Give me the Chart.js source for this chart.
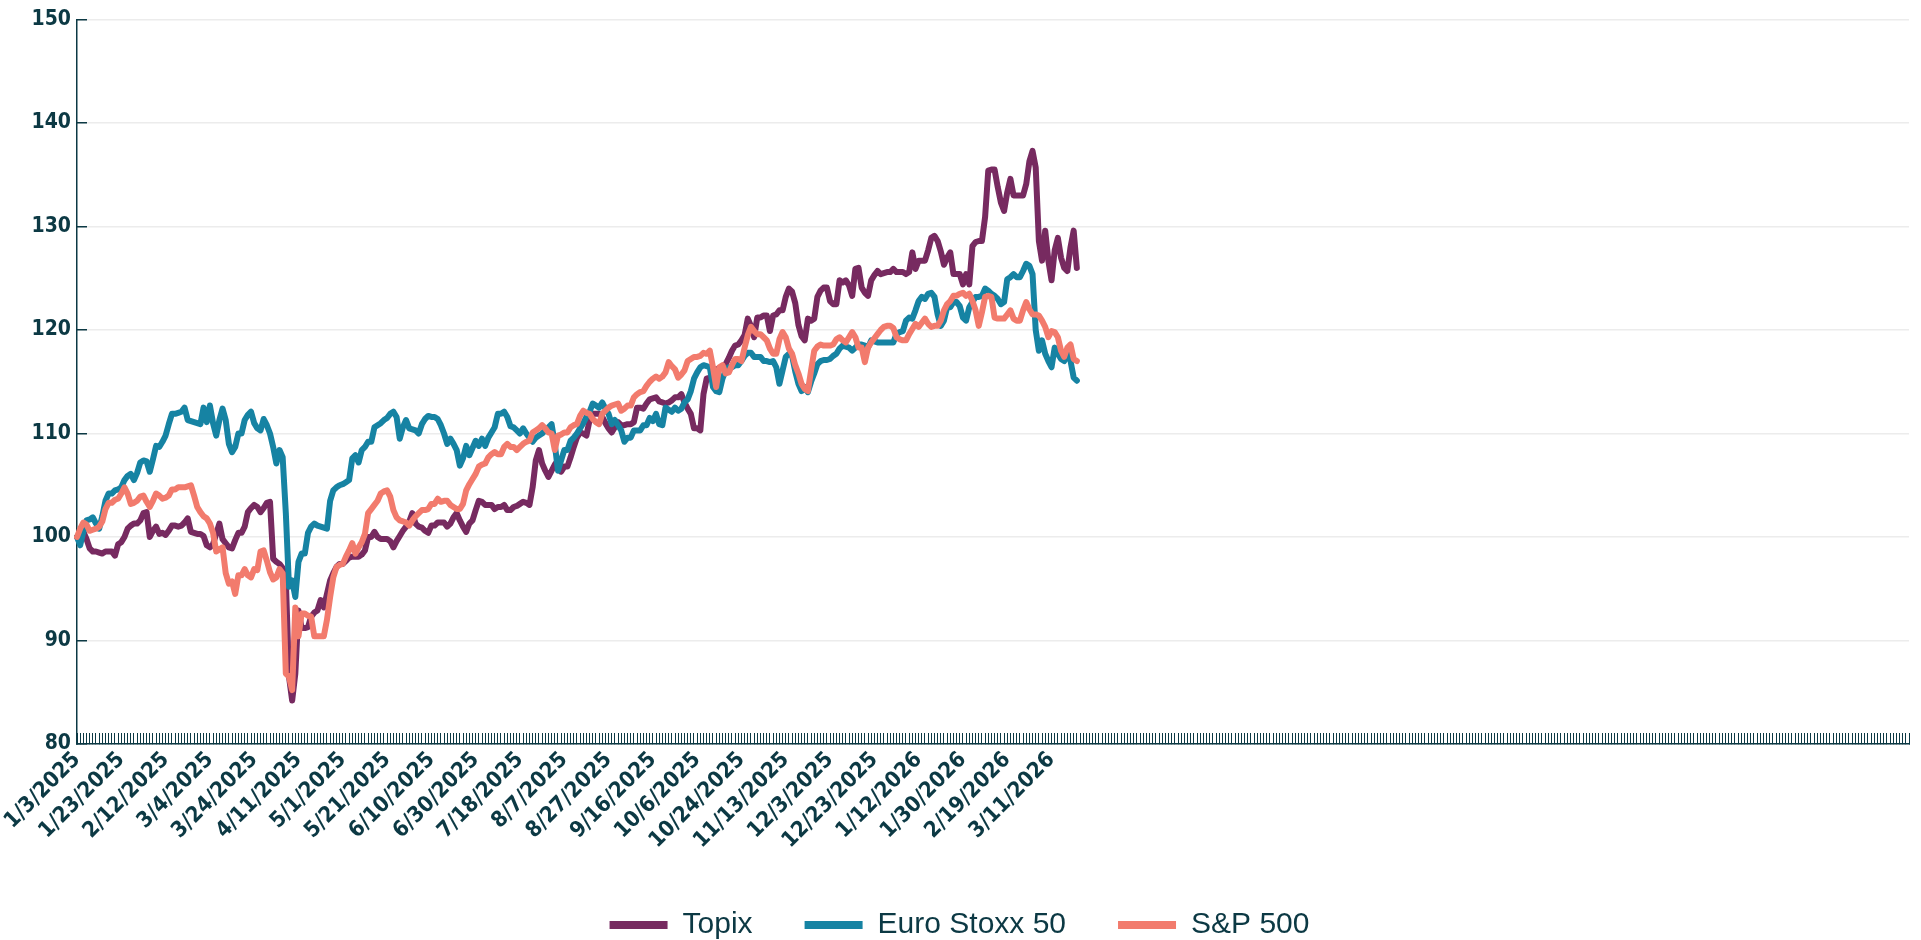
<!DOCTYPE html>
<html>
<head>
<meta charset="utf-8">
<title>Topix, Euro Stoxx 50, S&amp;P 500</title>
<script src="https://cdn.jsdelivr.net/npm/chart.js@4.4.1/dist/chart.umd.min.js"></script>
<style>
	html, body { margin: 0; padding: 0; background: #ffffff; overflow: hidden; }
	#chart-container { position: relative; width: 1921px; height: 940px; }
</style>
</head>
<body>
<div id="chart-container"><canvas id="myChart"></canvas></div>
<script>
		//Series values (rebased to 100), one per weekday from 1/3/2025 to 3/19/2026
		var topix = [
			100, 100.2, 100.5, 99.8, 98.9, 98.6, 98.6, 98.5, 98.4, 98.6,
			98.6, 98.6, 98.2, 99.3, 99.5, 100, 100.8, 101.1, 101.3, 101.3, 101.6,
			102.3, 102.4, 100, 100.6, 101, 100.3, 100.4, 100.2, 100.6, 101.1, 101.1,
			101, 101.1, 101.4, 101.8, 100.5, 100.4, 100.3, 100.3, 100.1, 99.2,
			99, 99.3, 100.3, 101.3, 99.8, 99.4, 99, 98.9, 99.7, 100.4, 100.4,
			101, 102.4, 102.8, 103.1, 102.9, 102.4, 102.8, 103.3, 103.4, 97.9,
			97.6, 97.4, 97.0, 95.8, 86.5, 84.2, 86.8, 92.9, 91.2, 91.2, 91.3,
			92.3, 92.7, 92.9, 93.9, 93.2, 94.5, 95.8, 96.5, 97.1, 97.4,
			97.4, 97.7, 98, 98.1, 98.1, 98.1, 98.3, 98.7, 100, 100, 100.5,
			100, 99.8, 99.8, 99.8, 99.6, 99.0, 99.6, 100.1, 100.6, 101.0,
			101.5, 102.3, 101.3, 101, 100.9, 100.6, 100.4, 101.1, 101.1, 101.4, 101.4,
			101.4, 101, 101.3, 101.9, 102.3, 101.6, 101, 100.5, 101.3, 101.6,
			102.6, 103.5, 103.4, 103.1, 103.1, 103.1, 102.7, 102.9, 102.9, 103.1, 102.6,
			102.6, 102.9, 103, 103.2, 103.4, 103.3, 103.1, 104.8, 107.4, 108.4,
			107.1, 106.4, 105.8, 106.4, 107, 107.4, 106.3, 106.8, 106.8, 107.7, 108.7,
			109.6, 110.1, 110, 109.8, 111.3, 111.9, 111.9, 111.9, 111.6, 111,
			110.5, 110.1, 110.6, 111.1, 110.8, 110.8, 110.9, 110.9, 111.1, 112.5, 112.5,
			112.4, 112.9, 113.3, 113.4, 113.5, 113.1, 113, 112.9, 113, 113.2,
			113.5, 113.5, 113.8, 113, 112.4, 111.9, 110.5, 110.5, 110.3, 113.8, 115.3,
			115.4, 115.8, 116.2, 116.3, 116.4, 116.7, 117.3, 118, 118.5, 118.6,
			119, 119.5, 121.1, 120.4, 119.3, 121.2, 121.2, 121.4, 121.4, 119.9, 121.4,
			121.5, 121.9, 121.9, 123.2, 124, 123.7, 122.6, 120.5, 119.4, 119,
			121.1, 120.9, 121.1, 123.2, 123.8, 124.1, 124.1, 122.8, 122.5, 122.5, 124.8,
			124.6, 124.8, 124.3, 123.3, 125.9, 126, 124.1, 123.6, 123.3, 124.8,
			125.3, 125.7, 125.4, 125.5, 125.6, 125.6, 125.9, 125.6, 125.6, 125.6, 125.4,
			125.6, 127.5, 125.9, 126.7, 126.7, 126.7, 127.7, 128.9, 129.1, 128.6,
			127.6, 126.3, 127, 127.5, 125.4, 125.4, 125.4, 124.4, 125.4, 124.4, 128.1,
			128.5, 128.6, 128.6, 130.9, 135.4, 135.5, 135.5, 133.8, 132.3, 131.5,
			133.3, 134.6, 133, 133, 133, 133, 134.1, 136.3, 137.3, 135.7, 128.6,
			126.7, 129.6, 126.7, 124.8, 127.7, 128.9, 127, 126, 125.7, 128,
			129.6, 126
		];
		var euroStoxx = [
			100, 99.2, 100.5, 101.6, 101.7, 101.9, 101.3, 100.8, 102, 103.5,
			104.2, 104.2, 104.5, 104.6, 104.8, 105.5, 105.9, 106.1, 105.5, 106.2, 107.2,
			107.4, 107.3, 106.3, 107.5, 108.8, 108.7, 109.2, 109.8, 110.9, 111.9, 111.9,
			112, 112.1, 112.5, 111.3, 111.2, 111.1, 111, 110.9, 112.5, 111.1,
			112.7, 111, 109.8, 111.3, 112.4, 111.3, 109, 108.2, 108.7, 110, 110,
			111.3, 111.8, 112.1, 111, 110.5, 110.3, 111.4, 110.8, 110, 108.7,
			107.1, 108.4, 107.7, 102.3, 95.2, 95.8, 94.2, 97.6, 98.4, 98.4, 100.4,
			101, 101.3, 101.1, 101, 100.9, 100.8, 103.5, 104.5, 104.8, 105,
			105.1, 105.3, 105.5, 107.6, 107.9, 107.2, 108.4, 108.7, 109.2, 109.2, 110.6,
			110.8, 111, 111.3, 111.5, 111.9, 112.1, 111.6, 109.5, 110.6, 111.3,
			110.5, 110.4, 110.3, 110, 110.9, 111.4, 111.7, 111.6, 111.6, 111.4, 110.8,
			110, 109, 109.5, 109, 108.4, 106.9, 107.6, 108.8, 107.9, 108.6,
			109.3, 108.8, 109.5, 108.8, 109.6, 110.1, 110.6, 111.9, 111.9, 112.1, 111.6,
			110.7, 110.6, 110.3, 110, 110.5, 110, 109.6, 109.2, 109.6, 109.8,
			110, 110.3, 110.6, 110.9, 109, 106.4, 107.4, 108.4, 108.4, 109.3, 109.6,
			110, 110.5, 111, 111.6, 112.1, 112.9, 112.7, 112.5, 113, 112.4,
			111.9, 110.9, 111.3, 110.8, 110.3, 109.2, 109.6, 109.6, 110.3, 110.3, 110.3,
			110.8, 110.8, 111.5, 111.2, 111.9, 110.9, 110.8, 112.5, 112.3, 112.1,
			112.5, 112.2, 112.4, 113, 113.3, 114.1, 115.3, 115.9, 116.4, 116.6, 116.5,
			116.4, 114.5, 114.1, 114, 115.3, 116.1, 116.4, 116.4, 116.6, 116.6,
			117, 117.5, 117.8, 117.8, 117.4, 117.4, 117.4, 117, 117, 116.9, 117,
			116.4, 114.8, 116.1, 117.4, 117.7, 117.5, 116, 114.8, 114.1, 114.5,
			114, 115, 115.8, 116.7, 117, 117.1, 117.1, 117.2, 117.5, 117.7, 118.2,
			118.5, 118.4, 118.3, 118, 118.3, 118.6, 118.6, 118.5, 118.3, 119,
			118.9, 118.8, 118.8, 118.8, 118.8, 118.8, 118.8, 119.6, 119.8, 119.9, 120.9,
			121.2, 121.1, 121.9, 122.8, 123.2, 123, 123.5, 123.6, 123.2, 121.5,
			120.4, 120.9, 122.2, 122.2, 122.7, 122.7, 122.3, 121.2, 120.9, 122.2, 122.7,
			123.2, 123.2, 123.3, 124, 123.8, 123.5, 123.3, 123, 122.5, 122.7,
			124.9, 125.1, 125.4, 125.1, 125.1, 125.7, 126.4, 126.2, 125.4, 120, 118,
			119, 117.7, 117, 116.4, 118.3, 117.7, 117.2, 117, 117.7, 117,
			115.4, 115.1
		];
		var sp500 = [
			100, 100.8, 101.4, 101.2, 100.6, 100.7, 100.8, 101, 101.5, 102.7,
			103.3, 103.3, 103.6, 103.7, 104.2, 104.8, 104.2, 103.2, 103.3, 103.5, 103.9,
			104, 103.4, 102.9, 103.5, 104.2, 104, 103.7, 103.8, 104, 104.6, 104.6,
			104.8, 104.8, 104.8, 104.9, 105, 104, 102.9, 102.4, 102, 101.8,
			101.3, 100.4, 98.6, 98.8, 99, 96.5, 95.5, 95.7, 94.5, 96.3, 96.3,
			96.9, 96.3, 96.1, 96.9, 96.8, 98.6, 98.7, 97.7, 96.6, 95.9,
			96.1, 96.9, 96.5, 86.8, 86.5, 85.2, 93.2, 90.4, 92.6, 92.6, 92.4,
			92.3, 90.4, 90.4, 90.4, 90.4, 92, 94.2, 96.1, 97.1, 97.3,
			97.4, 98.1, 98.7, 99.4, 98.4, 99, 99.5, 100.3, 102.3, 102.7, 103.1,
			103.5, 104.2, 104.4, 104.5, 103.9, 102.6, 101.9, 101.6, 101.5, 101.4,
			101.1, 101.6, 102, 102.3, 102.6, 102.6, 102.7, 103.2, 103.2, 103.7, 103.4,
			103.5, 103.5, 103.1, 102.9, 102.7, 102.7, 103.2, 104.5, 105.1, 105.6,
			106.1, 106.8, 107, 107.1, 107.7, 108, 108.2, 108, 108, 108.7, 109,
			108.7, 108.7, 108.4, 108.7, 109, 109.2, 109.3, 110.1, 110.3, 110.5,
			110.8, 110.5, 110.1, 110, 108.4, 109.8, 109.9, 110.1, 110.1, 110.6, 110.8,
			110.9, 111.7, 112.2, 112, 111.9, 111.4, 111.1, 110.9, 111.9, 112.2,
			112.5, 112.7, 112.8, 112.9, 112.2, 112.4, 112.7, 112.7, 113.5, 113.8, 114,
			114.1, 114.6, 115, 115.3, 115.5, 115.3, 115.5, 115.9, 116.9, 116.5,
			116.2, 115.4, 115.7, 116.1, 117, 117.2, 117.4, 117.4, 117.5, 117.8, 117.7,
			118, 116.4, 114.5, 116.4, 116.6, 115.8, 115.9, 116.6, 117.2, 117.2,
			117, 118.3, 119.5, 120.3, 119.9, 119.6, 119.6, 119.3, 119, 118.2, 117.7,
			117.7, 119.1, 119.8, 119.3, 118.2, 117.7, 116.6, 115.8, 114.8, 114.3,
			114.1, 116.1, 118, 118.4, 118.6, 118.5, 118.5, 118.5, 118.6, 119.1, 119.3,
			119, 118.8, 119.3, 119.8, 119.3, 118.3, 118.3, 116.9, 118.3, 118.8,
			119.2, 119.6, 120, 120.3, 120.4, 120.4, 120.2, 119.3, 119.1, 119, 119,
			119.6, 120.1, 120.6, 120.3, 120.7, 121.1, 120.6, 120.3, 120.4, 120.4,
			120.9, 121.9, 122.5, 122.8, 123.3, 123.3, 123.5, 123.6, 123.3, 123.5, 122.8,
			121.9, 120.4, 121.7, 123.2, 123.3, 123.2, 121.2, 121.1, 121.1, 121.1,
			121.5, 121.9, 121.1, 120.9, 120.9, 121.9, 122.7, 122, 121.5, 121.5, 121.4,
			120.9, 120.3, 119.3, 119.9, 119.8, 119.3, 118, 117.4, 118.3, 118.6,
			117.2, 117
		];

		//Category axis: one slot per weekday from 1/3/2025, then empty slots to the end of the axis
		var firstDate = new Date(2025, 0, 3);
		var totalSlots = 580;
		var labelEvery = 14;
		var yMin = 80;
		var yMax = 150;
		var yStep = 10;

		var categories = [];
		var day = new Date(firstDate);
		for (var i = 0; i < totalSlots; i++) {
			if (i < topix.length) {
				categories.push((day.getMonth() + 1) + "/" + day.getDate() + "/" + day.getFullYear());
				//Step to the next weekday
				do {
					day.setDate(day.getDate() + 1);
				} while (day.getDay() == 0 || day.getDay() == 6);
			} else {
				categories.push("");
			}
		}

		var textColor = "#0c3944";
		var fontFamily = "'DejaVu Sans Condensed', 'DejaVu Sans', sans-serif";

		//Legend: plain colour bars without an outline
		function legendLabels(chart) {
			var items = Chart.defaults.plugins.legend.labels.generateLabels(chart);
			items.forEach(function (item) {
				item.lineWidth = 0;
			});
			return items;
		}

		//Create Chart
		var ctx = document.getElementById('myChart').getContext("2d");
		var myChart = new Chart(ctx, {
			type: 'line',
			data: {
				labels: categories,
				datasets: [{
						label: "Topix",
						data: topix,
						borderColor: "#772a60",
						backgroundColor: "#772a60",
						order: 2
					},
					{
						label: "Euro Stoxx 50",
						data: euroStoxx,
						borderColor: "#1683a3",
						backgroundColor: "#1683a3",
						order: 1
					},
					{
						label: "S&P 500",
						data: sp500,
						borderColor: "#f27b6d",
						backgroundColor: "#f27b6d",
						order: 0
					}]
			},
			//Chart Options
			options: {
				responsive: true,
				maintainAspectRatio: false,
				animation: false,
				layout: { padding: { top: 19.5, right: 12, bottom: -10, left: 10 } },
				elements: {
					line: { borderWidth: 6, tension: 0, borderJoinStyle: 'round', borderCapStyle: 'round' },
					point: { radius: 0, hoverRadius: 0 }
				},
				plugins: {
					tooltip: { enabled: false },
					legend: {
						position: 'bottom',
						labels: {
							boxWidth: 58,
							boxHeight: 8,
							padding: 52,
							color: textColor,
							font: { family: "'Liberation Sans', Arial, sans-serif", size: 30 },
							generateLabels: legendLabels,
							sort: function (a, b) { return a.datasetIndex - b.datasetIndex; }
						}
					}
				},
				scales: {
					x: {
						type: 'category',
						offset: false,
						grid: { display: true, drawOnChartArea: false, drawTicks: true, tickLength: -11, tickColor: textColor, tickWidth: 1 },
						border: { display: true, color: textColor, width: 1.5 },
						ticks: {
							autoSkip: false,
							minRotation: 45,
							maxRotation: 45,
							padding: 14,
							color: textColor,
							font: { family: fontFamily, size: 22, weight: "bold" },
							callback: function (value, index) {
								if (index % labelEvery == 0 && index < topix.length) {
									return this.getLabelForValue(value);
								}
								return "";
							}
						},
						afterFit: function (scale) {
							scale.height = 114;
							scale.paddingLeft = 0;
							scale.paddingRight = 0;
						}
					},
					y: {
						min: yMin,
						max: yMax,
						grid: { color: "#ececec", lineWidth: 1.5, tickLength: -10, tickColor: textColor, tickWidth: 1.5 },
						border: { display: true, color: textColor, width: 1.5 },
						ticks: { stepSize: yStep, padding: 16, color: textColor, font: { family: fontFamily, size: 21, weight: "bold" } },
						afterFit: function (scale) {
							scale.width = 67;
							scale.paddingTop = 0;
							scale.paddingBottom = 0;
						}
					}
				}
			}
		});
</script>
</body>
</html>
